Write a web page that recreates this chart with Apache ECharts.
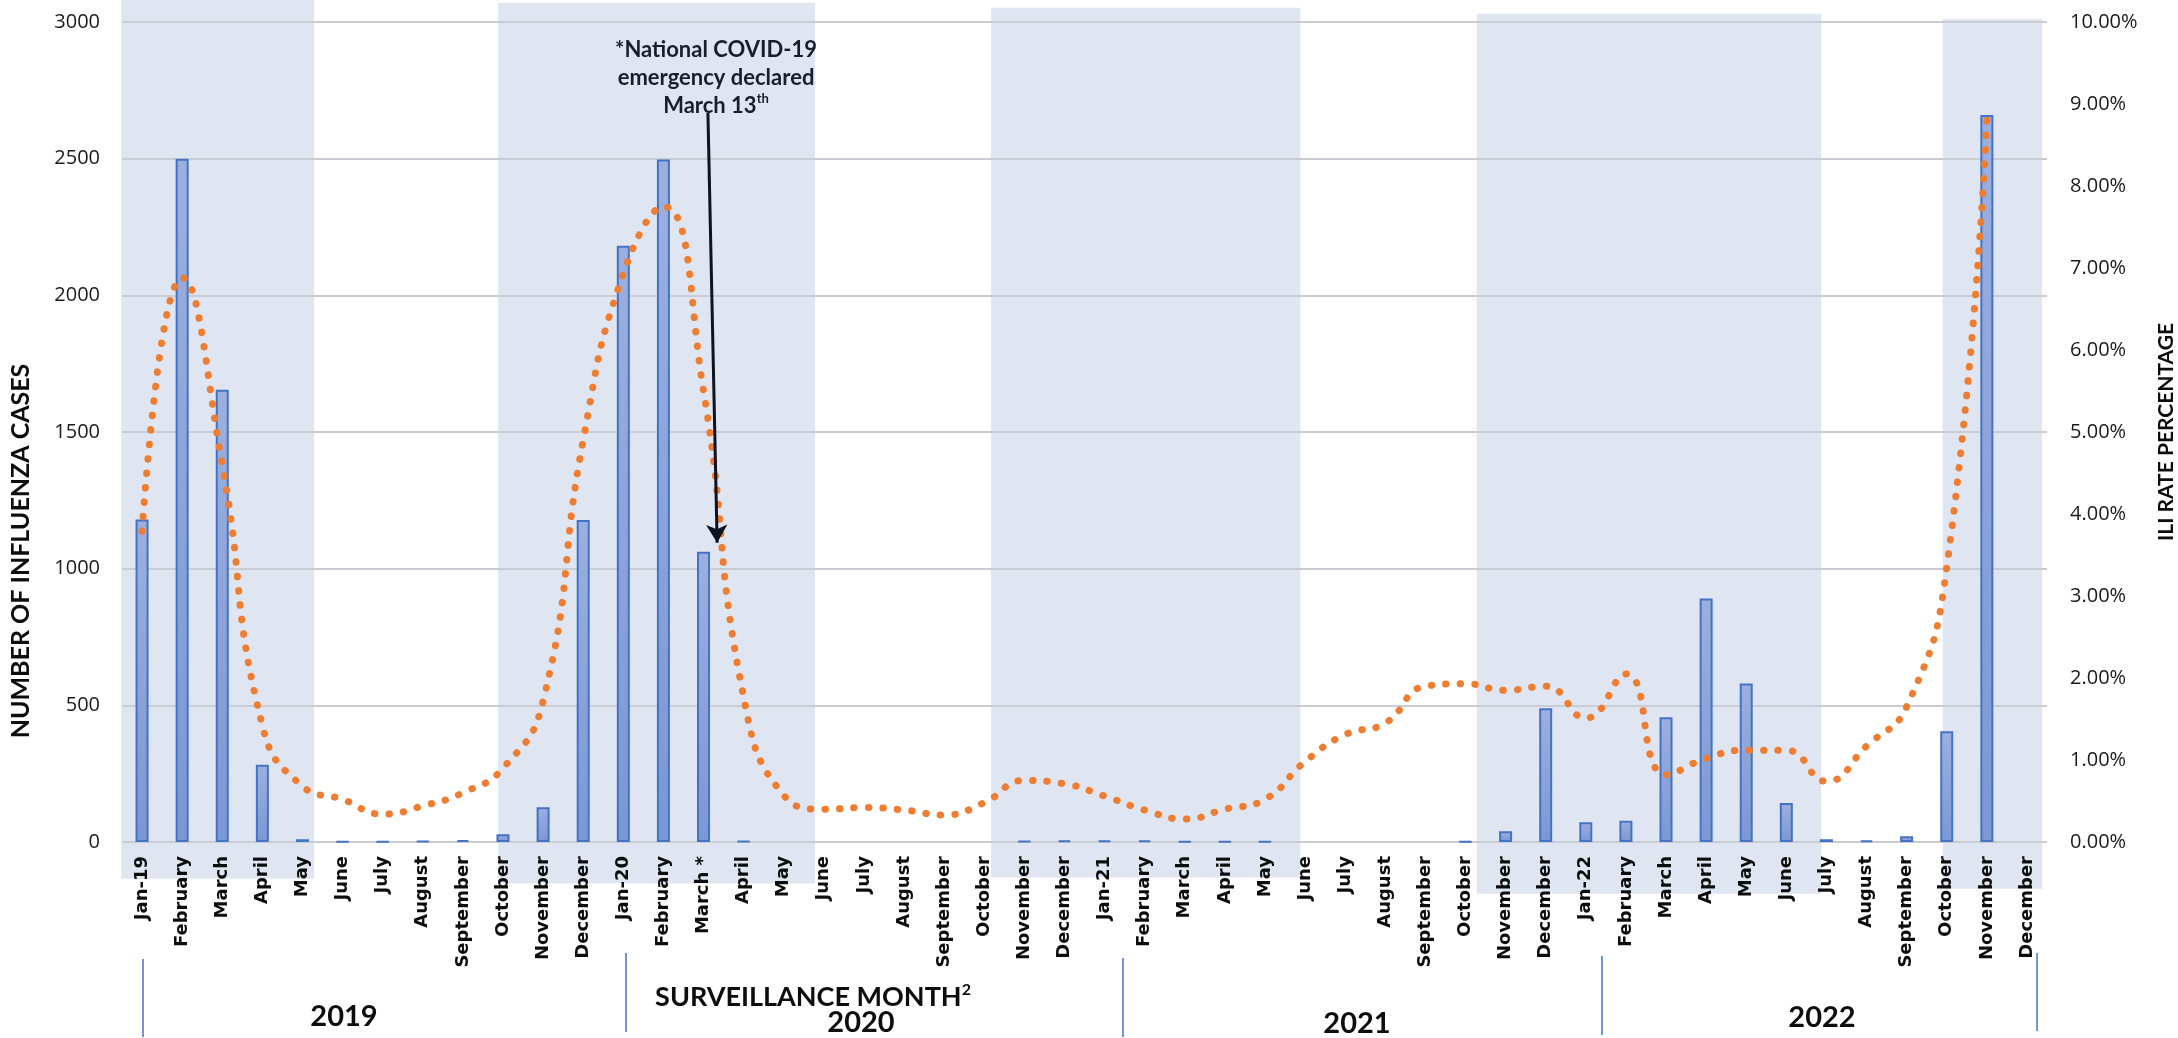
<!DOCTYPE html>
<html>
<head>
<meta charset="utf-8">
<title>Influenza cases and ILI rate</title>
<script src="https://cdn.jsdelivr.net/npm/echarts@6/dist/echarts.min.js"></script>
<style>
  html, body { margin: 0; padding: 0; background: #fff; }
  #chart { width: 2178px; height: 1038px; }
</style>
</head>
<body>
<div id="chart"></div>
<script>
// surveillance months, Jan 2019 - Dec 2022
var months = [
  'Jan-19', 'February', 'March', 'April', 'May', 'June', 'July', 'August', 'September', 'October', 'November', 'December',
  'Jan-20', 'February', 'March *', 'April', 'May', 'June', 'July', 'August', 'September', 'October', 'November', 'December',
  'Jan-21', 'February', 'March', 'April', 'May', 'June', 'July', 'August', 'September', 'October', 'November', 'December',
  'Jan-22', 'February', 'March', 'April', 'May', 'June', 'July', 'August', 'September', 'October', 'November', 'December'
]

// number of influenza cases (bars)
var influenzaCases = [
  1180, 2500, 1655, 283, 10, 2, 2, 3, 7, 28, 127, 1178,
  2181, 2497, 1062, 3, null, null, null, null, null, null, 3, 5,
  5, 6, 2, 2, 2, null, null, null, null, 2, 39, 489,
  72, 78, 456, 891, 580, 143, 10, 5, 21, 405, 2660, null
]

// ILI rate in percent (dotted line)
var iliRate = [
  3.79, 6.88, 4.6, 1.42, 0.68, 0.52, 0.34, 0.44, 0.6, 0.9, 1.72, 4.9,
  6.93, 7.75, 5.5, 1.77, 0.57, 0.40, 0.42, 0.39, 0.33, 0.48, 0.75, 0.71,
  0.56, 0.39, 0.28, 0.40, 0.52, 0.98, 1.31, 1.45, 1.90, 1.93, 1.85, 1.90,
  1.51, 2.05, 0.82, 1.02, 1.12, 1.12, 0.74, 1.17, 1.65, 3.35, 8.8, null
]

var casesTicks = { min: 0, max: 3000, interval: 500 }
var rateTicks = { min: 0, max: 10, interval: 1 }

var years = ['2019', '2020', '2021', '2022']

// shaded season spans: [from month index, to month index, bottom, top] in cases units
var shadedSpans = [
  [-0.52, 4.29, -134, 3081],
  [8.88, 16.78, -152, 3070],
  [21.17, 28.88, -130, 3052],
  [33.28, 41.87, -189, 3030],
  [44.9, 47.38, -171, 3011]
]

// arrow pointing at March 2020 (month index, cases)
var emergencyArrow = [[14.11, 2667], [14.34, 1095]]

var titleFont = "'Liberation Sans Narrow', 'Lato', sans-serif"
var gridBox = { left: 122, right: 131, top: 22, bottom: 196 }

var chart = echarts.init(document.getElementById('chart'), null, { renderer: 'canvas' })

function yearLabel (text, x, y) {
  return {
    type: 'text',
    x: x,
    y: y,
    style: { text: text, font: 'bold 29px ' + titleFont, fill: '#0d0d0d', align: 'center', verticalAlign: 'middle' }
  }
}

function yearDivider (x, y1, y2) {
  return {
    type: 'line',
    shape: { x1: x, y1: y1, x2: x, y2: y2 },
    style: { stroke: '#4472c4', lineWidth: 1.5 }
  }
}

var option = {
  animation: false,
  backgroundColor: '#ffffff',
  grid: [
    Object.assign({ outerBoundsMode: 'none' }, gridBox),
    Object.assign({ outerBoundsMode: 'none' }, gridBox)
  ],
  xAxis: [{
    type: 'category',
    gridIndex: 0,
    data: months,
    axisTick: { show: false },
    axisLine: { show: false },
    axisLabel: {
      interval: 0,
      rotate: 90,
      margin: 14,
      color: '#0d0d0d',
      fontFamily: 'DejaVu Sans',
      fontWeight: 'bold',
      fontSize: 18
    }
  }, {
    type: 'value',
    gridIndex: 1,
    min: -0.5,
    max: 47.5,
    show: false
  }],
  yAxis: [{
    type: 'value',
    gridIndex: 0,
    position: 'left',
    min: casesTicks.min,
    max: casesTicks.max,
    interval: casesTicks.interval,
    axisLine: { show: false },
    axisTick: { show: false },
    axisLabel: {
      margin: 22,
      color: '#1a1a1a',
      fontFamily: 'Open Sans',
      fontSize: 20,
      formatter: function (v) {
        return String(v)
      }
    },
    splitLine: {
      lineStyle: { color: '#c9ccd3', width: 2 }
    }
  }, {
    type: 'value',
    gridIndex: 0,
    position: 'right',
    min: rateTicks.min,
    max: rateTicks.max,
    interval: rateTicks.interval,
    axisLine: { show: false },
    axisTick: { show: false },
    splitLine: { show: false },
    axisLabel: {
      margin: 23,
      color: '#1a1a1a',
      fontFamily: 'Open Sans',
      fontSize: 20,
      formatter: function (v) {
        return v.toFixed(2) + '%'
      }
    }
  }, {
    type: 'value',
    gridIndex: 1,
    min: casesTicks.min,
    max: casesTicks.max,
    show: false
  }],
  series: [
    {
      name: 'shading',
      type: 'custom',
      xAxisIndex: 1,
      yAxisIndex: 2,
      z: -1,
      silent: true,
      clip: false,
      encode: { x: [0, 1], y: [2, 3] },
      data: shadedSpans,
      renderItem: function (params, api) {
        var p0 = api.coord([api.value(0), api.value(3)])
        var p1 = api.coord([api.value(1), api.value(2)])
        return {
          type: 'rect',
          shape: { x: p0[0], y: p0[1], width: p1[0] - p0[0], height: p1[1] - p0[1] },
          style: { fill: '#dfe6f2' }
        }
      }
    },
    {
      name: 'Influenza cases',
      type: 'bar',
      xAxisIndex: 0,
      yAxisIndex: 0,
      barWidth: 13,
      z: 2,
      itemStyle: {
        color: new echarts.graphic.LinearGradient(0, 0, 0, 1, [
          { offset: 0, color: '#9cb0df' },
          { offset: 1, color: '#7b97d4' }
        ]),
        borderColor: '#4472c4',
        borderWidth: 2
      },
      data: influenzaCases
    },
    {
      name: 'ILI rate',
      type: 'line',
      xAxisIndex: 0,
      yAxisIndex: 1,
      z: 3,
      smooth: 0.5,
      symbol: 'none',
      lineStyle: {
        color: '#ed7d31',
        width: 7,
        type: [0.5, 14],
        cap: 'round'
      },
      data: iliRate
    },
    {
      name: 'annotation',
      type: 'line',
      xAxisIndex: 1,
      yAxisIndex: 2,
      z: 4,
      symbol: 'none',
      lineStyle: { opacity: 0 },
      data: [emergencyArrow[0]],
      markLine: {
        silent: true,
        symbol: ['none', 'arrow'],
        symbolSize: [16, 18],
        label: { show: false },
        lineStyle: { color: '#10131f', width: 3, type: 'solid' },
        data: [[{ coord: emergencyArrow[0] }, { coord: emergencyArrow[1] }]]
      }
    }
  ],
  graphic: [
    {
      type: 'text',
      x: 21,
      y: 551,
      rotation: Math.PI / 2,
      style: {
        text: 'NUMBER OF INFLUENZA CASES',
        font: 'bold 25px ' + titleFont,
        fill: '#0d0d0d',
        align: 'center',
        verticalAlign: 'middle'
      }
    },
    {
      type: 'text',
      x: 2166,
      y: 432,
      rotation: Math.PI / 2,
      style: {
        text: 'ILI RATE PERCENTAGE',
        font: 'bold 21px ' + titleFont,
        fill: '#0d0d0d',
        align: 'center',
        verticalAlign: 'middle'
      }
    },
    {
      type: 'text',
      x: 813,
      y: 997,
      style: {
        text: '{t|SURVEILLANCE MONTH}{s|2}',
        align: 'center',
        verticalAlign: 'middle',
        rich: {
          t: { font: 'bold 27px ' + titleFont, fill: '#0d0d0d', lineHeight: 30 },
          s: { font: 'bold 16px ' + titleFont, fill: '#0d0d0d', lineHeight: 15, verticalAlign: 'top' }
        }
      }
    },
    {
      type: 'text',
      x: 716,
      y: 78,
      style: {
        text: '*National COVID-19\nemergency declared\n{m|March 13}{s|th}',
        font: 'bold 22px Lato',
        fill: '#1c1d2b',
        align: 'center',
        verticalAlign: 'middle',
        lineHeight: 28,
        rich: {
          m: { font: 'bold 22px Lato', fill: '#1c1d2b', lineHeight: 28 },
          s: { font: 'bold 13px Lato', fill: '#1c1d2b', lineHeight: 16, verticalAlign: 'top' }
        }
      }
    },
    yearLabel(years[0], 344, 1017),
    yearLabel(years[1], 861, 1023),
    yearLabel(years[2], 1357, 1024),
    yearLabel(years[3], 1822, 1018),
    yearDivider(143, 959, 1037),
    yearDivider(626, 953, 1032),
    yearDivider(1123, 958, 1037),
    yearDivider(1602, 956, 1035),
    yearDivider(2037, 953, 1031)
  ]
}

chart.setOption(option)

window.addEventListener('resize', function () {
  chart.resize()
})
</script>
</body>
</html>
